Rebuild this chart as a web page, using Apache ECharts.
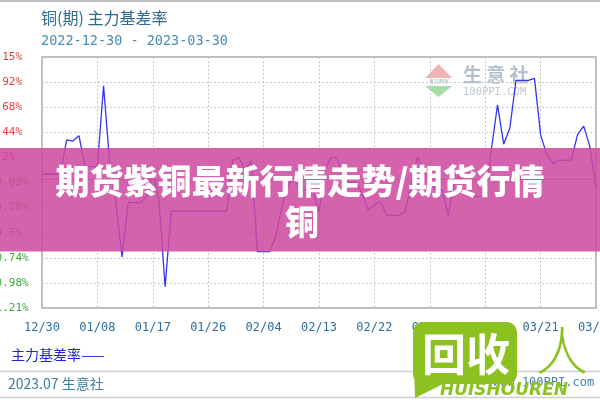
<!DOCTYPE html>
<html><head><meta charset="utf-8">
<script src="https://cdn.jsdelivr.net/npm/echarts@6/dist/echarts.min.js"></script>
<style>html,body{margin:0;padding:0;background:#fff;overflow:hidden}#c{width:600px;height:400px}</style>
</head><body><div id="c"></div>
<script>
// calendar days shown on the x axis
const dates = ["12/30","12/31",
"01/01","01/02","01/03","01/04","01/05","01/06","01/07","01/08","01/09","01/10",
"01/11","01/12","01/13","01/14","01/15","01/16","01/17","01/18","01/19","01/20",
"01/21","01/22","01/23","01/24","01/25","01/26","01/27","01/28","01/29","01/30","01/31",
"02/01","02/02","02/03","02/04","02/05","02/06","02/07","02/08","02/09","02/10",
"02/11","02/12","02/13","02/14","02/15","02/16","02/17","02/18","02/19","02/20",
"02/21","02/22","02/23","02/24","02/25","02/26","02/27","02/28",
"03/01","03/02","03/03","03/04","03/05","03/06","03/07","03/08","03/09","03/10",
"03/11","03/12","03/13","03/14","03/15","03/16","03/17","03/18","03/19","03/20",
"03/21","03/22","03/23","03/24","03/25","03/26","03/27","03/28","03/29","03/30"];

// 主力基差率 (%), one value per calendar day
const basisRate = [
0.05,0.05,
0.05,0.05,0.37,0.36,0.41,0.12,0.12,0.12,0.88,0.15,
-0.22,-0.73,-0.22,-0.22,-0.22,-0.16,0.07,-0.20,-1.01,-0.30,
-0.30,-0.30,-0.30,-0.30,-0.30,-0.30,-0.30,-0.30,-0.30,0.18,0.20,
0.09,0.17,-0.68,-0.68,-0.68,-0.53,-0.25,-0.05,0.01,-0.10,
-0.10,-0.10,-0.31,0.09,0.21,0.20,-0.03,-0.03,-0.03,-0.13,
-0.29,-0.24,-0.21,-0.34,-0.34,-0.34,-0.30,-0.05,
0.21,0.07,-0.01,-0.10,-0.10,-0.34,-0.03,0.04,-0.05,-0.16,
-0.16,-0.16,0.28,0.70,0.33,0.48,0.93,0.93,0.93,0.95,
0.42,0.23,0.15,0.18,0.18,0.18,0.42,0.50,0.31,-0.08];

// y tick labels, bottom to top
const yTickLabels = ["-1.21%","-0.98%","-0.74%","-0.5%","-0.26%","-0.03%","0.2%","0.44%","0.68%","0.92%","1.15%"];
const yMin = -1.21, yMax = 1.15, yStep = 0.236;

const titleText = "铜(期) 主力基差率";
const rangeText = "2022-12-30 - 2023-03-30";
const legendText = "主力基差率——";
const footerText = "2023.07 生意社";
const bannerLine1 = "期货紫铜最新行情走势/期货行情";
const bannerLine2 = "铜";

const chart = echarts.init(document.getElementById('c'), null, {renderer:'canvas'});
const logoGreen = '#8cc21f';
chart.setOption({
  animation: false,
  grid: {left: 42, right: 4, top: 57, bottom: 92, containLabel: false, outerBoundsMode: 'none',
    show: true, borderColor: '#a8a8a8', borderWidth: 1.5, backgroundColor: '#fff'},
  xAxis: {
    type: 'category', data: dates, boundaryGap: false,
    axisLine: {show: false}, axisTick: {show: false},
    axisLabel: {interval: 8, color: '#2f6e9e', fontFamily: 'DejaVu Sans Mono', fontSize: 12, margin: 14, hideOverlap: false},
    splitLine: {show: true, interval: 8, lineStyle: {color: '#c8c8c8', type: [2, 2], width: 1}}
  },
  yAxis: {
    type: 'value', min: yMin, max: yMax, interval: yStep,
    axisLine: {show: false}, axisTick: {show: false},
    axisLabel: {
      align: 'left', margin: 53, fontFamily: 'DejaVu Sans Mono', fontSize: 11,
      formatter: v => yTickLabels[Math.round((v - yMin) / yStep)],
      color: v => (v >= 0 ? '#e5403f' : '#3aaa3a')
    },
    splitLine: {show: true, lineStyle: {color: '#c8c8c8', type: [2, 2], width: 1}}
  },
  series: [{
    type: 'line', data: basisRate, showSymbol: false, smooth: false,
    lineStyle: {color: '#3434ee', width: 1.3},
    markLine: {silent: true, symbol: 'none', label: {show: false},
      lineStyle: {color: '#999', type: 'solid', width: 1}, data: [{yAxis: 0}]}
  }],
  graphic: [
    {type: 'line', shape: {x1: 0, y1: 1, x2: 600, y2: 1}, style: {stroke: '#bdbdbd', lineWidth: 2}},
    {type: 'line', shape: {x1: 0, y1: 371.5, x2: 600, y2: 371.5}, style: {stroke: '#cfcfcf', lineWidth: 1.5}},
    {type: 'line', shape: {x1: 0, y1: 397.5, x2: 600, y2: 397.5}, style: {stroke: '#cfcfcf', lineWidth: 1.5}},
    {type: 'text', x: 41, y: 18, style: {text: titleText, fill: '#2d6890', font: '16px "Noto Sans CJK SC"', textVerticalAlign: 'middle'}},
    {type: 'text', x: 41, y: 41, style: {text: rangeText, fill: '#4a8cb8', font: '13.5px "DejaVu Sans Mono"', textVerticalAlign: 'middle'}},
    {type: 'text', x: 11, y: 355, style: {text: legendText, fill: '#2323dd', font: '14px "Noto Sans CJK SC"', textVerticalAlign: 'middle'}},
    {type: 'text', x: 8, y: 384, style: {text: footerText, fill: '#3f7f9f', font: '14px "Noto Sans CJK SC"', textVerticalAlign: 'middle'}},
    {type: 'text', x: 493, y: 383, style: {text: 'www.100PPI.com', fill: '#4a7fae', font: '12px "DejaVu Sans Mono"', textVerticalAlign: 'middle'}},
    // watermark 生意社
    {type: 'polygon', shape: {points: [[425, 78], [438.5, 64], [452, 78]]}, style: {fill: '#f0b4b4'}},
    {type: 'text', x: 438.5, y: 82, style: {text: '百万商家', fill: '#8aa', font: '5px sans-serif', textAlign: 'center', textVerticalAlign: 'middle'}},
    {type: 'polygon', shape: {points: [[425, 86], [438.5, 97], [452, 86]]}, style: {fill: '#a8dca8'}},
    {type: 'text', x: 463, y: 75, style: {text: '生 意 社', fill: '#b4c0cc', font: 'bold 19px "Noto Sans CJK SC"', textVerticalAlign: 'middle'}},
    {type: 'text', x: 463, y: 92, style: {text: '100PPI.COM', fill: '#c0c8d0', font: '10.5px "DejaVu Sans Mono"', textVerticalAlign: 'middle'}},
    // banner
    {type: 'rect', z: 100, shape: {x: 0, y: 148, width: 600, height: 103.5}, style: {fill: 'rgba(206,72,160,0.86)'}},
    {type: 'text', z: 101, x: 300, y: 181, style: {text: bannerLine1, fill: '#fff', font: '900 34px "Noto Sans CJK SC"', textAlign: 'center', textVerticalAlign: 'middle', shadowColor: 'rgba(80,0,50,0.35)', shadowBlur: 3}},
    {type: 'text', z: 101, x: 302, y: 222, style: {text: bannerLine2, fill: '#fff', font: '900 34px "Noto Sans CJK SC"', textAlign: 'center', textVerticalAlign: 'middle', shadowColor: 'rgba(80,0,50,0.35)', shadowBlur: 3}},
    // 回收人 logo
    {type: 'rect', z: 100, shape: {x: 413, y: 322, width: 104, height: 62, r: 10}, style: {fill: logoGreen}},
    {type: 'polygon', z: 100, shape: {points: [[414, 370], [415, 398], [445, 383]]}, style: {fill: logoGreen}},
    {type: 'text', z: 101, x: 466, y: 354, style: {text: '回收', fill: '#fff', font: 'bold 44px "Noto Sans CJK SC"', textAlign: 'center', textVerticalAlign: 'middle'}},
    {type: 'text', z: 101, x: 562, y: 350, style: {text: '人', fill: logoGreen, font: '300 52px "Noto Sans CJK SC"', textAlign: 'center', textVerticalAlign: 'middle'}},
    {type: 'text', z: 101, x: 440, y: 391, style: {text: 'HUISHOUREN', fill: logoGreen, font: 'italic bold 17px "DejaVu Sans"', textVerticalAlign: 'middle'}}
  ]
});
</script></body></html>
